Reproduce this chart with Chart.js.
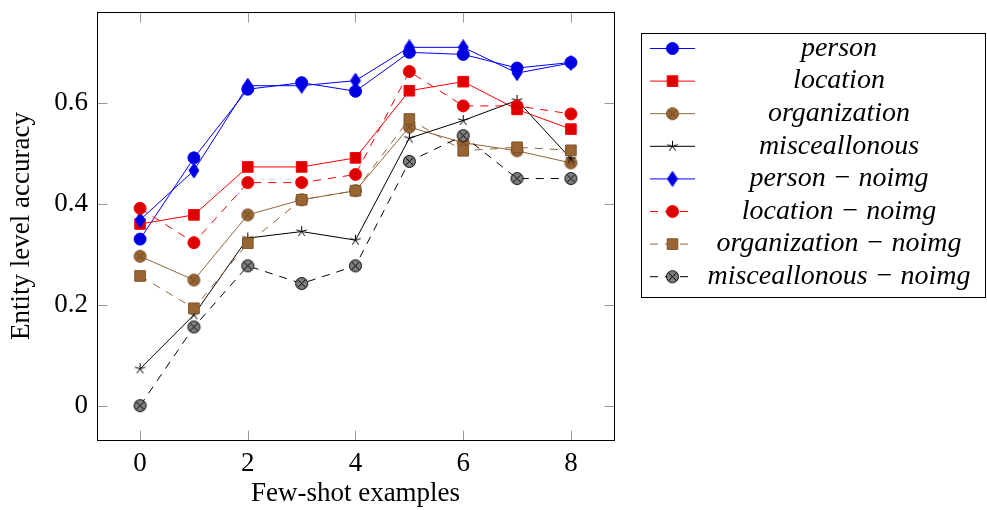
<!DOCTYPE html>
<html lang="en">
<head>
<meta charset="UTF-8" />
<title>Entity level accuracy</title>
<script src="https://cdn.jsdelivr.net/npm/chart.js@4.4.1/dist/chart.umd.min.js"></script>
<style>
	html, body { margin: 0; padding: 0; background: #fff; }
	.chart-container { position: relative; width: 987px; height: 510px; }
</style>
</head>
<body>
<div class="chart-container"><canvas id="accuracy-chart"></canvas></div>
<script>
// Values
const shots = [0, 1, 2, 3, 4, 5, 6, 7, 8]
const xTicks = [0, 2, 4, 6, 8]
const yTicks = [0, 0.2, 0.4, 0.6]

const personAcc = [0.330, 0.491, 0.627, 0.640, 0.623, 0.700, 0.696, 0.669, 0.680]
const locationAcc = [0.360, 0.378, 0.473, 0.473, 0.491, 0.624, 0.642, 0.587, 0.548]
const organizationAcc = [0.296, 0.249, 0.378, 0.408, 0.426, 0.552, 0.521, 0.505, 0.481]
const miscAcc = [0.073, 0.180, 0.332, 0.345, 0.328, 0.530, 0.565, 0.605, 0.489]
const personNoimg = [0.368, 0.466, 0.634, 0.634, 0.644, 0.710, 0.710, 0.659, 0.679]
const locationNoimg = [0.391, 0.323, 0.442, 0.442, 0.458, 0.662, 0.594, 0.594, 0.578]
const organizationNoimg = [0.257, 0.193, 0.322, 0.408, 0.426, 0.568, 0.505, 0.512, 0.506]
const miscNoimg = [0.000, 0.156, 0.277, 0.242, 0.277, 0.484, 0.535, 0.450, 0.450]

const seriesLabels = [
	'person', 'location', 'organization', 'misceallonous',
	'person \u2212 noimg', 'location \u2212 noimg', 'organization \u2212 noimg', 'misceallonous \u2212 noimg',
]

const FONT = '"Liberation Serif", "Times New Roman", serif'
const BROWN = '#93653a'
const BROWN_FILL = '#996633'
const BROWN_EDGE = '#7e532a'

// small canvases used as point styles for the marks chart.js lacks
function makeMark(w, h, draw) {
	const c = document.createElement('canvas')
	c.width = w
	c.height = h
	const g = c.getContext('2d')
	draw(g, w / 2, h / 2)
	return c
}

function otimes(fill, edge, cross) {
	return makeMark(15, 15, (g, cx, cy) => {
		const r = 6
		g.beginPath()
		g.arc(cx, cy, r, 0, Math.PI * 2)
		g.fillStyle = fill
		g.fill()
		g.lineWidth = 1
		g.strokeStyle = edge
		g.stroke()
		const d = r * Math.SQRT1_2
		g.beginPath()
		g.moveTo(cx - d, cy - d); g.lineTo(cx + d, cy + d)
		g.moveTo(cx + d, cy - d); g.lineTo(cx - d, cy + d)
		g.strokeStyle = cross
		g.stroke()
	})
}

const orgMark = otimes(BROWN_FILL, BROWN_EDGE, '#6b4520')
const miscNoMark = otimes('#808080', '#000', '#000')

const starMark = makeMark(13, 13, (g, cx, cy) => {
	g.strokeStyle = '#000'
	g.lineWidth = 1
	g.beginPath()
	for (let k = 0; k < 5; k++) {
		const a = -Math.PI / 2 + k * 2 * Math.PI / 5
		g.moveTo(cx, cy)
		g.lineTo(cx + 5.5 * Math.cos(a), cy + 5.5 * Math.sin(a))
	}
	g.stroke()
})

const diamondMark = makeMark(12, 16, (g, cx, cy) => {
	g.beginPath()
	g.moveTo(cx, cy - 7.5)
	g.lineTo(cx + 5, cy)
	g.lineTo(cx, cy + 7.5)
	g.lineTo(cx - 5, cy)
	g.closePath()
	g.fillStyle = '#0000dd'
	g.fill()
	g.strokeStyle = '#0000ff'
	g.lineWidth = 1
	g.stroke()
})

function series(label, data, color, style, opts) {
	return Object.assign({
		label: label,
		data: data,
		borderColor: color,
		borderWidth: 1,
		pointStyle: style,
		pointRadius: 6,
		pointBorderWidth: 1,
		pointBorderColor: color,
		pointBackgroundColor: color,
		fill: false,
		tension: 0,
		clip: false,
	}, opts)
}

const datasets = [
	series(seriesLabels[0], personAcc, '#0000ff', 'circle', { pointBackgroundColor: '#0000dd', pointRadius: 6 }),
	series(seriesLabels[1], locationAcc, '#ff0000', 'rect', { pointBackgroundColor: '#dd0000', pointRadius: 7.5 }),
	series(seriesLabels[2], organizationAcc, BROWN, orgMark, {}),
	series(seriesLabels[3], miscAcc, '#000000', starMark, {}),
	series(seriesLabels[4], personNoimg, '#0000ff', diamondMark, {}),
	series(seriesLabels[5], locationNoimg, '#ff0000', 'circle', { pointBackgroundColor: '#dd0000', borderDash: [8, 7] }),
	series(seriesLabels[6], organizationNoimg, BROWN, 'rect', { pointBackgroundColor: BROWN_FILL, pointBorderColor: BROWN_EDGE, pointRadius: 7.5, borderDash: [8, 7] }),
	series(seriesLabels[7], miscNoimg, '#000000', miscNoMark, { borderDash: [8, 7] }),
]
// later series on top, like the original
datasets.forEach((d, i) => { d.order = datasets.length - i })

// inward ticks and the box around the plot
const axisFrame = {
	id: 'axisFrame',
	beforeDatasetsDraw(chart) {
		const { ctx, chartArea: a, scales } = chart
		const L = Math.round(a.left) + 0.5
		const R = Math.round(a.right) + 0.5
		const T = Math.round(a.top) + 0.5
		const B = Math.round(a.bottom) + 0.5
		ctx.save()
		ctx.strokeStyle = '#9a9a9a'
		ctx.lineWidth = 1
		ctx.beginPath()
		xTicks.forEach(v => {
			const px = Math.round(scales.x.getPixelForValue(v)) + 0.5
			ctx.moveTo(px, B); ctx.lineTo(px, B - 10)
			ctx.moveTo(px, T); ctx.lineTo(px, T + 10)
		})
		yTicks.forEach(v => {
			const py = Math.round(scales.y.getPixelForValue(v)) + 0.5
			ctx.moveTo(L, py); ctx.lineTo(L + 10, py)
			ctx.moveTo(R, py); ctx.lineTo(R - 10, py)
		})
		ctx.stroke()
		ctx.strokeStyle = '#000'
		ctx.strokeRect(L, T, R - L, B - T)
		ctx.restore()
	},
}

// boxed legend at the right, drawn from the datasets
const boxLegend = {
	id: 'boxLegend',
	afterDraw(chart) {
		const ctx = chart.ctx
		const box = { x: 641.5, y: 33.5, w: 344, h: 264 }
		ctx.save()
		ctx.fillStyle = '#fff'
		ctx.fillRect(box.x, box.y, box.w, box.h)
		ctx.strokeStyle = '#000'
		ctx.lineWidth = 1
		ctx.strokeRect(box.x, box.y, box.w, box.h)
		chart.data.datasets.forEach((ds, i) => {
			const cy = 48.5 + i * 32.6
			ctx.save()
			ctx.strokeStyle = ds.borderColor
			ctx.lineWidth = 1
			ctx.setLineDash(ds.borderDash || [])
			ctx.beginPath()
			ctx.moveTo(650, cy)
			ctx.lineTo(695, cy)
			ctx.stroke()
			ctx.restore()
			ctx.fillStyle = ds.pointBackgroundColor
			ctx.strokeStyle = ds.pointBorderColor
			ctx.lineWidth = 1
			Chart.helpers.drawPoint(ctx, {
				pointStyle: ds.pointStyle,
				radius: ds.pointRadius,
				rotation: 0,
				borderWidth: 1,
			}, 672.5, cy)
			ctx.fillStyle = '#000'
			ctx.font = 'italic 28px ' + FONT
			ctx.textAlign = 'center'
			ctx.textBaseline = 'middle'
			ctx.fillText(ds.label, 839, cy)
		})
		ctx.restore()
	},
}

// keep the plot box where it is in the original, whatever the label sizes
function noEdgePadding(s) {
	s.paddingTop = 0
	s.paddingBottom = 0
	s.paddingLeft = 0
	s.paddingRight = 0
}

const ctx = document.getElementById('accuracy-chart').getContext('2d')
new Chart(ctx, {
	type: 'line',
	data: {
		labels: shots,
		datasets: datasets.map(d => Object.assign(d, { data: d.data.map((v, i) => ({ x: shots[i], y: v })) })),
	},
	options: {
		responsive: true,
		maintainAspectRatio: false,
		animation: false,
		layout: { padding: { top: 12, right: 373, bottom: 0, left: 0 } },
		plugins: {
			legend: { display: false },
			tooltip: { enabled: false },
		},
		scales: {
			x: {
				type: 'linear',
				min: -0.8,
				max: 8.8,
				afterBuildTicks: s => { s.ticks = xTicks.map(v => ({ value: v })) },
				afterFit: s => { s.height = 70; noEdgePadding(s) },
				grid: { display: false, drawTicks: false },
				border: { display: false },
				ticks: { color: '#000', padding: 8, font: { family: FONT, size: 27 }, callback: v => String(v) },
				title: { display: true, text: 'Few-shot examples', color: '#000', font: { family: FONT, size: 27 }, padding: { top: 0, bottom: 0 } },
			},
			y: {
				type: 'linear',
				min: -0.068,
				max: 0.78,
				afterBuildTicks: s => { s.ticks = yTicks.map(v => ({ value: v })) },
				afterFit: s => { s.width = 97; noEdgePadding(s) },
				grid: { display: false, drawTicks: false },
				border: { display: false },
				ticks: { color: '#000', padding: 9, font: { family: FONT, size: 27 }, callback: v => String(v) },
				title: { display: true, text: 'Entity level accuracy', color: '#000', font: { family: FONT, size: 27 }, padding: { top: 6, bottom: 0 } },
			},
		},
	},
	plugins: [axisFrame, boxLegend],
})
</script>
</body>
</html>
